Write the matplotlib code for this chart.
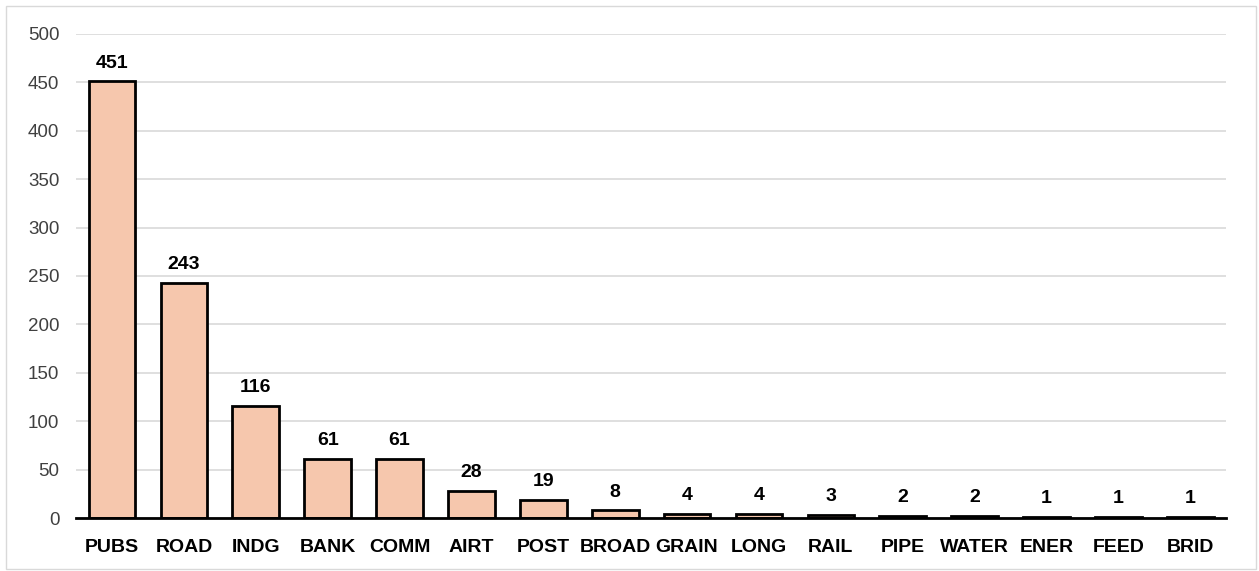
import matplotlib.pyplot as plt
from matplotlib.patches import Rectangle

categories = ['PUBS', 'ROAD', 'INDG', 'BANK', 'COMM', 'AIRT', 'POST', 'BROAD',
              'GRAIN', 'LONG', 'RAIL', 'PIPE', 'WATER', 'ENER', 'FEED', 'BRID']
counts = [451, 243, 116, 61, 61, 28, 19, 8, 4, 4, 3, 2, 2, 1, 1, 1]
yticks = [0, 50, 100, 150, 200, 250, 300, 350, 400, 450, 500]

plt.rcParams['font.family'] = ['Liberation Sans', 'DejaVu Sans']

fig = plt.figure(figsize=(12.59, 5.71), dpi=100)
ax = fig.add_axes([0.0604, 0.0928, 0.9136, 0.8477])

# light frame around the whole chart
fig.patches.append(Rectangle((6 / 1259, 2 / 571), 1250 / 1259, 563 / 571,
                             transform=fig.transFigure, fill=False,
                             edgecolor='#d9d9d9', linewidth=1))

x = range(len(categories))
bars = ax.bar(x, counts, width=0.65, color='#f6c7ad', edgecolor='black',
              linewidth=2, zorder=3)

for xi, v in zip(x, counts):
    ax.text(xi, v + 10, str(v), ha='center', va='bottom',
            fontsize=14, fontweight='bold')

ax.set_xlim(-0.5, len(categories) - 0.5)
ax.set_ylim(0, 500)
ax.set_yticks(yticks)
ax.set_xticks(list(x))
ax.set_xticklabels(categories, fontsize=14, fontweight='bold')
ax.tick_params(axis='y', labelsize=13.5, length=0, pad=12, colors='#404040')
ax.tick_params(axis='x', length=0, pad=15)
for lbl in ax.get_yticklabels():
    lbl.set_color('#404040')

ax.grid(axis='y', color='#d9d9d9', linewidth=1.2, zorder=0)
for s in ['top', 'right', 'left']:
    ax.spines[s].set_visible(False)
ax.spines['bottom'].set_linewidth(2)
ax.spines['bottom'].set_zorder(4)

fig.savefig('out.png', dpi=100)
